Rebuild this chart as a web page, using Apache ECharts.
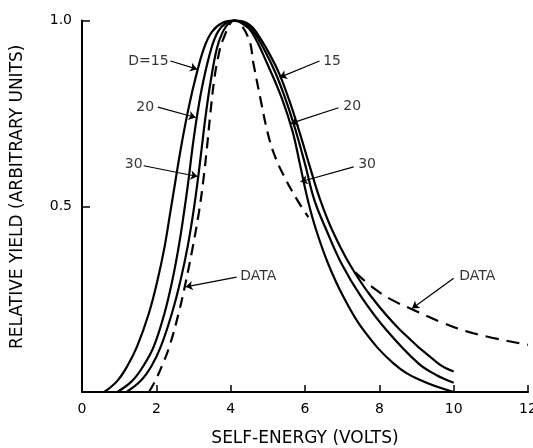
<!DOCTYPE html>
<html><head><meta charset="utf-8">
<script src="https://cdn.jsdelivr.net/npm/echarts@6/dist/echarts.min.js"></script>
<style>html,body{margin:0;padding:0;background:#fff}#c{width:533px;height:448px}</style>
</head><body><div id="c"></div>
<script>
// Self-energy (volts) vs relative yield, curves for D = 15, 20, 30 and measured data
const curveD15 = [[0.6,0],[0.95,0.03],[1.22,0.07],[1.48,0.122],[1.8,0.212],[2.03,0.30],[2.22,0.39],[2.37,0.48],[2.51,0.566],[2.66,0.656],[2.83,0.746],[3.03,0.835],[3.28,0.925],[3.5,0.97],[3.78,0.994],[4.1,1.0],[4.42,0.994],[4.68,0.97],[5.2,0.88],[5.56,0.79],[5.85,0.70],[6.12,0.61],[6.41,0.517],[6.73,0.436],[7.19,0.346],[7.78,0.257],[8.56,0.167],[9.58,0.077],[10,0.055]];
const curveD20 = [[0.95,0],[1.35,0.03],[1.65,0.07],[1.93,0.122],[2.22,0.212],[2.43,0.30],[2.6,0.39],[2.74,0.48],[2.86,0.566],[2.97,0.656],[3.1,0.746],[3.26,0.835],[3.48,0.925],[3.66,0.97],[3.88,0.994],[4.1,1.0],[4.34,0.994],[4.62,0.97],[5.11,0.88],[5.47,0.79],[5.76,0.70],[6.01,0.61],[6.25,0.517],[6.575,0.436],[6.98,0.346],[7.51,0.257],[8.19,0.167],[9.05,0.077],[9.53,0.046],[10,0.025]];
const curveD30 = [[1.2,0],[1.58,0.03],[1.87,0.07],[2.12,0.122],[2.42,0.212],[2.65,0.30],[2.84,0.39],[2.99,0.48],[3.11,0.566],[3.22,0.656],[3.33,0.746],[3.46,0.835],[3.63,0.925],[3.79,0.97],[3.96,0.994],[4.1,1.0],[4.28,0.994],[4.56,0.97],[5.0,0.88],[5.38,0.79],[5.67,0.70],[5.87,0.61],[6.075,0.517],[6.3,0.436],[6.62,0.346],[7.03,0.257],[7.57,0.167],[8.38,0.077],[9.1,0.032],[10,0]];
const dataPeak = [[1.8,0],[1.97,0.03],[2.15,0.07],[2.35,0.122],[2.6,0.212],[2.8,0.30],[2.98,0.39],[3.14,0.48],[3.26,0.566],[3.36,0.656],[3.45,0.746],[3.55,0.835],[3.66,0.9],[3.8,0.95],[4.1,1.0],[4.47,0.955],[4.62,0.88],[4.8,0.79],[4.99,0.70],[5.17,0.64],[5.42,0.584],[5.79,0.517],[6.09,0.471]];
const dataTail = [[7.35,0.322],[7.84,0.28],[8.3,0.25],[8.83,0.225],[9.64,0.189],[10.53,0.158],[12.0,0.127]];

const xTickValues = [0, 2, 4, 6, 8, 10, 12];
const yTickValues = [0, 0.5, 1.0];
const yTickLabels = ['', '0.5', '1.0'];

// annotation texts: [x, y, text, side]
const noteTexts = [[2.33,0.889,'D=15','left'],[1.94,0.766,'20','left'],[1.63,0.612,'30','left'],
  [6.49,0.889,'15','right'],[7.03,0.769,'20','right'],[7.43,0.612,'30','right'],
  [4.26,0.31,'DATA','right'],[10.15,0.31,'DATA','right']];
// annotation arrows: [x1, y1, x2, y2] (tail -> head)
const noteArrows = [[2.38,0.891,3.10,0.869],[2.04,0.767,3.06,0.739],[1.66,0.609,3.11,0.580],
  [6.39,0.891,5.32,0.847],[6.90,0.765,5.62,0.723],[7.31,0.606,5.88,0.566],
  [4.16,0.309,2.79,0.283],[10.0,0.306,8.88,0.225]];

const FONT = 'DejaVu Sans';
const ink = '#000';
const chart = echarts.init(document.getElementById('c'), null, {renderer: 'canvas'});
const solid = (name, data, extra) => Object.assign({
  name, type: 'line', data, smooth: 0.4, showSymbol: false, symbol: 'none', clip: false,
  lineStyle: {color: ink, width: 2.2}, silent: true, animation: false
}, extra || {});

chart.setOption({
  animation: false,
  backgroundColor: '#fff',
  grid: {left: 82, right: 5, top: 20.5, bottom: 56, containLabel: false, outerBoundsMode: 'none'},
  xAxis: {
    type: 'value', min: 0, max: 12, interval: 2,
    name: 'SELF-ENERGY (VOLTS)', nameLocation: 'middle', nameGap: 38,
    nameTextStyle: {fontFamily: FONT, fontSize: 17, color: ink},
    axisLine: {show: true, onZero: false, lineStyle: {color: ink, width: 2}},
    axisTick: {show: true, inside: true, length: 7, lineStyle: {color: ink, width: 1.5}},
    axisLabel: {margin: 10, fontFamily: FONT, fontSize: 14, color: ink,
      formatter: v => xTickValues.indexOf(v) >= 0 ? String(v) : ''},
    splitLine: {show: false}
  },
  yAxis: {
    type: 'value', min: 0, max: 1, interval: 0.5,
    name: 'RELATIVE YIELD (ARBITRARY UNITS)', nameLocation: 'middle', nameGap: 56,
    nameTextStyle: {fontFamily: FONT, fontSize: 17, color: ink, padding: [0, 0, 0, 19]},
    axisLine: {show: true, lineStyle: {color: ink, width: 2}},
    axisTick: {show: true, inside: true, length: 8, lineStyle: {color: ink, width: 1.5}},
    axisLabel: {margin: 10, fontFamily: FONT, fontSize: 14, color: ink,
      formatter: v => { const i = yTickValues.findIndex(t => Math.abs(t - v) < 1e-9); return i >= 0 ? yTickLabels[i] : ''; }},
    splitLine: {show: false}
  },
  series: [
    solid('D=15', curveD15, {
      markLine: {
        silent: true, animation: false, symbol: ['none', 'arrow'], symbolSize: 7,
        lineStyle: {color: ink, width: 1.2, type: 'solid'}, label: {show: false},
        emphasis: {disabled: true},
        data: noteArrows.map(a => [{coord: [a[0], a[1]]}, {coord: [a[2], a[3]]}])
      }
    }),
    solid('D=20', curveD20),
    solid('D=30', curveD30),
    solid('DATA', dataPeak, {lineStyle: {color: ink, width: 2.2, type: [11, 7]}}),
    solid('DATA tail', dataTail, {lineStyle: {color: ink, width: 2.2, type: [13, 8]}}),
    {
      name: 'notes', type: 'scatter', symbolSize: 0, silent: true, animation: false,
      data: noteTexts.map(n => ({value: [n[0], n[1]], text: n[2],
        label: {position: n[3], distance: 0}})),
      label: {show: true, fontFamily: FONT, fontSize: 14, color: ink,
        formatter: p => p.data.text}
    }
  ]
});
</script></body></html>
